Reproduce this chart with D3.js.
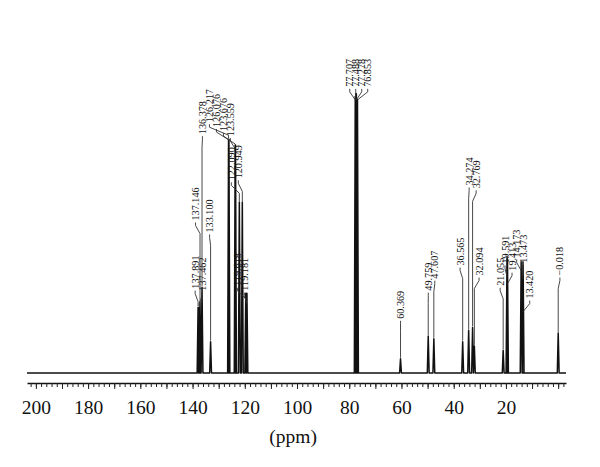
<!DOCTYPE html>
<html><head><meta charset="utf-8">
<script src="https://cdn.jsdelivr.net/npm/d3@7"></script>
<style>body{margin:0;background:#fff}svg{display:block}</style>
</head><body><svg id="c" width="600" height="467"></svg>
<script>
// ---- data ----
const peakPpm = [137.891,137.462,137.146,136.378,133.100,126.217,126.076,123.676,123.559,122.090,120.949,119.618,119.181,
  77.707,77.488,77.278,76.853,60.369,49.759,47.607,36.565,34.274,32.769,32.094,21.055,19.591,19.413,14.173,13.473,13.420,-0.018];
const peakLabels = ["137.891","137.462","137.146","136.378","133.100","126.217","126.076","123.676","123.559","122.090","120.949","119.618","119.181",
  "77.707","77.488","77.278","76.853","60.369","49.759","47.607","36.565","34.274","32.769","32.094","21.055","19.591","19.413","14.173","13.473","13.420","\u22120.018"];
const peakHeight = [23,23,25,30,11,82,82,80,80,60,60,28,28,
  97,98,98,96,5,13,12,11,15,16,9.5,8,41,40,39,39,38,14];
const tickValues = [200,180,160,140,120,100,80,60,40,20];
const axisTitle = "(ppm)";

// ---- layout (label placement) ----
const labelGroups = [
  {ids:[0,1], shift:0, sp:7, levels:[29.6,28.9]},
  {ids:[2], shift:-4.5, sp:7, levels:[53.5]},
  {ids:[4], shift:-1, sp:7, levels:[49.3]},
  {ids:[3,5,6,7,8], shift:-9.6, sp:7, levels:[83.8,88,86.3,84.9,83.1]},
  {ids:[9,10], shift:-6, sp:7, levels:[67.6,68.3]},
  {ids:[11,12], shift:-5.5, sp:7, levels:[30.6,28.9]},
  {ids:[13,14,15,16], shift:2.5, sp:6, levels:[100.4,100.4,100.4,100.4]},
  {ids:[17], shift:0, sp:7, levels:[19]},
  {ids:[18,19], shift:0.5, sp:6.5, levels:[28.9,33.1]},
  {ids:[20], shift:-2.6, sp:7, levels:[37.7]},
  {ids:[21,22], shift:2, sp:7, levels:[65.8,64.8]},
  {ids:[23], shift:4.7, sp:7, levels:[34.2]},
  {ids:[24], shift:-3, sp:7, levels:[30.6]},
  {ids:[25,26], shift:1.3, sp:7, levels:[38.4,35.9]},
  {ids:[27,28,29], shift:0.8, sp:6.5, levels:[40.5,38.7,26.1]},
  {ids:[30], shift:1.7, sp:7, levels:[34.2]}
];

const svg = d3.select("#c");
const x = d3.scaleLinear().domain([203.4,-3]).range([27,566]);
const y = d3.scaleLinear().domain([0,100]).range([373,88]);
const serif = "'Liberation Serif','Times New Roman',serif";

// ---- axis ----
const axisY = 383;
const gMinor = svg.append("g").attr("transform",`translate(0,${axisY})`)
  .call(d3.axisBottom(x).tickValues(d3.range(-2,204,2)).tickSize(4).tickSizeOuter(0).tickFormat(""));
const gMajor = svg.append("g").attr("transform",`translate(0,${axisY})`)
  .call(d3.axisBottom(x).tickValues(d3.range(0,201,10)).tickSize(6).tickSizeOuter(0).tickFormat(""));
gMajor.select(".domain").remove();
gMinor.select(".domain").attr("stroke","#111").attr("stroke-width",1.6);
svg.selectAll(".tick line").attr("stroke","#222").attr("stroke-width",1);
const gLab = svg.append("g").attr("transform",`translate(0,${axisY})`)
  .attr("font-family",serif).attr("font-size",19.5)
  .call(d3.axisBottom(x).tickValues(tickValues).tickSize(0).tickPadding(17).tickFormat(d3.format("d")));
gLab.select(".domain").remove();
gLab.selectAll("text").attr("font-family",serif).attr("font-size",19.5).attr("fill","#111");
svg.append("text").attr("x",x(101.5)).attr("y",443).attr("text-anchor","middle")
  .attr("font-family",serif).attr("font-size",19.5).attr("fill","#111").text(axisTitle);

// ---- spectrum ----
const hw = 0.35;
const order = d3.range(peakPpm.length).sort((a,b)=>peakPpm[b]-peakPpm[a]);
const pts = [[x.domain()[0],0]];
order.forEach(i=>{
  pts.push([peakPpm[i]+hw,0],[peakPpm[i],peakHeight[i]],[peakPpm[i]-hw,0]);
});
pts.push([x.domain()[1],0]);
svg.append("path").datum(pts)
  .attr("d",d3.line().x(d=>x(d[0])).y(d=>y(d[1])))
  .attr("fill","none").attr("stroke","#111").attr("stroke-width",1.5).attr("stroke-linejoin","round");

// ---- peak labels with leaders ----
const gL = svg.append("g");
labelGroups.forEach(g=>{
  const n = g.ids.length;
  const cx = d3.mean(g.ids, i=>x(peakPpm[i])) + g.shift;
  g.ids.forEach((id,k)=>{
    const lx = cx + (k-(n-1)/2)*g.sp;
    const by = y(g.levels[k]);
    const px = x(peakPpm[id]);
    const top = y(peakHeight[id]);
    const y1 = by + 5, y2 = by + 13;
    const path = d3.path();
    path.moveTo(lx, by+2);
    path.lineTo(lx, y1);
    path.lineTo(px, y2);
    if (top > y2) path.lineTo(px, top-1);
    gL.append("path").attr("d",path.toString()).attr("fill","none")
      .attr("stroke","#333").attr("stroke-width",0.9);
    gL.append("text").attr("transform",`translate(${lx},${by}) rotate(-90)`)
      .attr("dy","0.35em").attr("font-family",serif).attr("font-size",10.2).attr("fill","#111")
      .text(peakLabels[id]);
  });
});
</script></body></html>
